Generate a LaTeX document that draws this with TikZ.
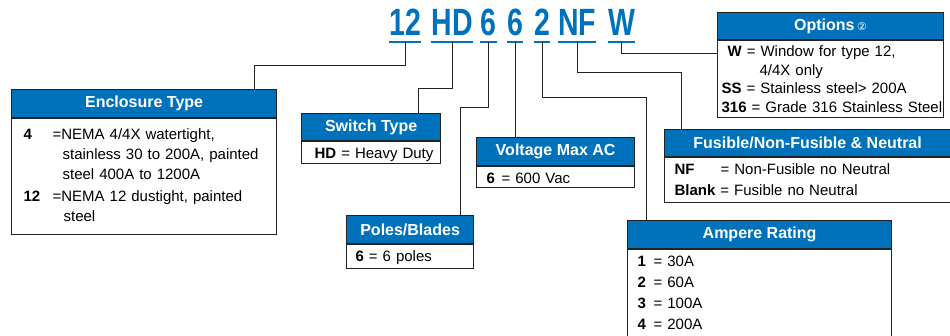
\documentclass[tikz,border=0pt]{standalone}
\usepackage{fontspec}
\setmainfont{Liberation Sans}
\newfontfamily\codefont[FakeStretch=0.75]{Liberation Sans}
\newfontfamily\symfont{DejaVu Sans}
\usetikzlibrary{positioning}
\definecolor{eatonblue}{RGB}{0,114,188}
\definecolor{boxline}{RGB}{35,35,35}

\begin{document}
\begin{tikzpicture}[
    x=1pt, y=-1pt,
    every node/.style={font=\fontsize{15}{20}\selectfont},
    code/.style={
        font=\codefont\bfseries\fontsize{38}{38}\selectfont,
        text=eatonblue,
        anchor=base,
        inner sep=0pt,
        text depth=7pt
    },
    uline/.style={draw=eatonblue, line width=2.2pt},
    head/.style={
        draw=boxline,
        fill=eatonblue,
        text=white,
        font=\bfseries\fontsize{16}{18}\selectfont,
        anchor=north west,
        inner sep=0pt,
        line width=1.2pt
    },
    body/.style={
        draw=boxline,
        align=left,
        inner sep=0pt,
        line width=1.2pt
    },
    pad/.style={execute at begin node={\leftskip=#1\relax}},
    conn/.style={draw=boxline, line width=1pt}
]
\useasboundingbox (0,0) rectangle (950,335);

% catalogue number
\node[code] (c12) at (405,35) {12};
\node[code] (cHD) at (452,35) {HD};
\node[code] (cPo) at (488.5,35) {6};
\node[code] (cVo) at (515,35) {6};
\node[code] (cAm) at (542,35) {2};
\node[code] (cNF) at (577,35) {NF};
\node[code] (cW) at (621.5,35) {W};
\foreach \c in {c12,cHD,cPo,cVo,cAm,cNF,cW}
    \draw[uline] (\c.south west) -- (\c.south east);

% boxes
\node[head, minimum width=265pt, minimum height=28pt] (enclH) at (11,89) {Enclosure Type};
\node[body, pad=12pt, text width=265pt, text height=21pt, text depth=95pt,
      below=0pt of enclH.south west, anchor=north west] (enclB)
{\makebox[29pt][l]{\textbf{4}}=NEMA 4/4X watertight,\\
 \hspace*{39pt}stainless 30 to 200A, painted\\
 \hspace*{39pt}steel 400A to 1200A\\[2pt]
 \makebox[29pt][l]{\textbf{12}}=NEMA 12 dustight, painted\\
 \hspace*{40pt}steel};

\node[head, minimum width=139pt, minimum height=27pt] (swH) at (301,113) {Switch Type};
\node[body, pad=13pt, text width=139pt, text height=17pt, text depth=5pt,
      below=0pt of swH.south west, anchor=north west] (swB)
{\textbf{HD} = Heavy Duty};

\node[head, minimum width=127pt, minimum height=28pt] (poH) at (346,215) {Poles/Blades};
\node[body, pad=9pt, text width=127pt, text height=17pt, text depth=7pt,
      below=0pt of poH.south west, anchor=north west] (poB)
{\textbf{6} = 6 poles};

\node[head, minimum width=158pt, minimum height=28pt] (voH) at (476,137) {Voltage Max AC};
\node[body, pad=10pt, text width=158pt, text height=17pt, text depth=4pt,
      below=0pt of voH.south west, anchor=north west] (voB)
{\makebox[15pt][l]{\textbf{6}}= 600 Vac};

\node[head, minimum width=226pt, minimum height=27pt] (opH) at (717,12)
{Options\,{\symfont\mdseries\fontsize{11}{11}\selectfont ②}};
\node[body, pad=4pt, text width=226pt, text height=16pt, text depth=61pt,
      font=\fontsize{15}{18.5}\selectfont,
      below=0pt of opH.south west, anchor=north west] (opB)
{\hspace*{6pt}\textbf{W} = Window for type 12,\\
 \hspace*{38pt}4/4X only\\
 \textbf{SS} = Stainless steel> 200A\\
 \textbf{316} = Grade 316 Stainless Steel};

\node[head, minimum width=292pt, minimum height=27pt] (fuH) at (664,129)
{\hspace*{-6pt}Fusible/Non-Fusible \& Neutral};
\node[body, pad=10pt, text width=292pt, text height=17pt, text depth=28pt,
      font=\fontsize{15}{21}\selectfont,
      below=0pt of fuH.south west, anchor=north west] (fuB)
{\makebox[46pt][l]{\textbf{NF}}= Non-Fusible no Neutral\\
 \textbf{Blank} = Fusible no Neutral};

\node[head, minimum width=264pt, minimum height=28pt] (amH) at (627,220) {Ampere Rating};
\node[body, pad=10pt, text width=264pt, text height=17pt, text depth=75pt,
      font=\fontsize{15}{21}\selectfont,
      below=0pt of amH.south west, anchor=north west] (amB)
{\makebox[16pt][l]{\textbf{1}}= 30A\\
 \makebox[16pt][l]{\textbf{2}}= 60A\\
 \makebox[16pt][l]{\textbf{3}}= 100A\\
 \makebox[16pt][l]{\textbf{4}}= 200A};

% leaders
\draw[conn] (c12.south) -- ++(0,23) -| ([xshift=-23pt]enclH.north east);
\draw[conn] (cHD.south) -- ++(0,46) -| ([xshift=-23pt]swH.north east);
\draw[conn] (cPo.south) -- ++(0,65) -| ([xshift=-14pt]poH.north east);
\draw[conn] (cVo.south) -- (cVo.south |- voH.north);
\draw[conn] (cAm.south) -- ++(0,55) -| ([xshift=19pt]amH.north west);
\draw[conn] (cNF.south) -- ++(0,30) -| ([xshift=17pt]fuH.north west);
\draw[conn] (cW.south) -- ++(0,11) coordinate (wk) -- (wk -| opB.west);

\end{tikzpicture}
\end{document}
